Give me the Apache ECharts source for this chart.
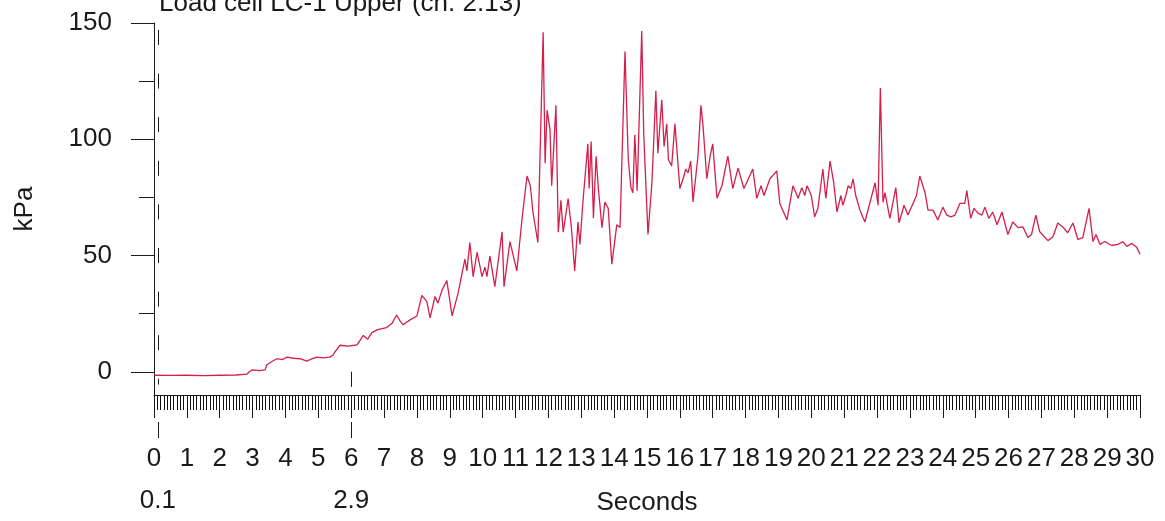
<!DOCTYPE html>
<html>
<head>
<meta charset="utf-8">
<script src="https://cdn.jsdelivr.net/npm/echarts@6/dist/echarts.min.js"></script>
<style>
html,body{margin:0;padding:0;background:#fff;}
#chart{width:1165px;height:521px;}
</style>
</head>
<body>
<div id="chart"></div>
<script>
// ---- data ----
const times = [
  0.0, 0.5, 1.0, 1.5, 2.0, 2.5, 2.83, 2.9, 3.0, 3.2, 3.38, 3.43, 3.6, 3.74, 3.9, 4.05, 4.25, 4.44, 4.65, 4.8,
  4.96, 5.15, 5.35, 5.45, 5.5, 5.66, 5.9, 6.1, 6.18, 6.37, 6.5, 6.63, 6.8, 7.08, 7.25, 7.38, 7.48, 7.58, 7.79, 8.0,
  8.15, 8.3, 8.4, 8.55, 8.64, 8.76, 8.91, 9.07, 9.25, 9.46, 9.52, 9.61, 9.71, 9.83, 9.98, 10.07, 10.13, 10.22, 10.37, 10.59,
  10.65, 10.83, 11.04, 11.2, 11.35, 11.45, 11.53, 11.68, 11.74, 11.84, 11.9, 11.96, 12.05, 12.1, 12.23, 12.3, 12.38, 12.45, 12.6, 12.7,
  12.8, 12.9, 12.96, 13.05, 13.2, 13.24, 13.3, 13.37, 13.45, 13.52, 13.63, 13.72, 13.82, 13.93, 14.08, 14.18, 14.33, 14.43, 14.51, 14.57,
  14.63, 14.7, 14.84, 14.9, 15.03, 15.15, 15.27, 15.33, 15.45, 15.52, 15.6, 15.65, 15.75, 15.85, 16.0, 16.1, 16.18, 16.25, 16.33, 16.4,
  16.55, 16.64, 16.7, 16.82, 16.92, 17.0, 17.13, 17.28, 17.46, 17.61, 17.77, 17.95, 18.22, 18.34, 18.47, 18.56, 18.74, 18.95, 19.04, 19.26,
  19.44, 19.6, 19.71, 19.8, 19.87, 20.0, 20.1, 20.2, 20.35, 20.44, 20.57, 20.68, 20.78, 20.9, 20.96, 21.05, 21.12, 21.2, 21.27, 21.35,
  21.48, 21.63, 21.84, 21.94, 22.03, 22.1, 22.18, 22.24, 22.39, 22.57, 22.67, 22.82, 22.94, 23.2, 23.3, 23.46, 23.55, 23.7, 23.85, 24.0,
  24.12, 24.25, 24.37, 24.52, 24.67, 24.73, 24.85, 24.95, 25.07, 25.19, 25.28, 25.4, 25.52, 25.65, 25.8, 25.98, 26.13, 26.29, 26.44, 26.59,
  26.7, 26.83, 26.95, 27.2, 27.35, 27.5, 27.65, 27.8, 27.96, 28.11, 28.26, 28.45, 28.57, 28.66, 28.78, 28.93, 29.14, 29.33, 29.48, 29.6,
  29.75, 29.9, 30.0
];
const kpa = [
  -1.5, -1.6, -1.5, -1.7, -1.5, -1.4, -1.0, 0, 0.8, 0.5, 0.8, 2.9, 4.5, 5.6, 5.2, 6.3, 5.8, 5.6, 4.6, 5.5,
  6.3, 6.0, 6.3, 7.2, 8.4, 11.4, 11.0, 11.4, 11.6, 15.6, 14.0, 16.8, 18.1, 19.0, 21, 24.4, 22, 20.2, 22.3, 24,
  32.8, 30.3, 23.2, 32.4, 29.5, 35, 39.2, 24, 33.7, 48.4, 43.4, 55.6, 40.9, 51.4, 40.9, 45, 40.9, 49.7, 36.6, 60.2,
  36.6, 56, 43.4, 66, 84.2, 80, 68.7, 55.6, 54.8, 146, 89.7, 112.5, 104, 80, 114.6, 60, 73.7, 60, 74.5, 62,
  43.4, 64.4, 54.8, 73, 98, 78.8, 99, 66, 92.7, 78.8, 62, 73, 70.3, 46.3, 63.2, 62, 137.7, 91.4, 79.2, 77,
  101.9, 77.9, 146.6, 102.4, 59, 81.3, 120.9, 94, 117, 96.9, 106.6, 91.4, 88.5, 106.6, 78.8, 83, 87.2, 85.5, 90.6, 73,
  92.7, 114.6, 106.6, 83, 92.7, 98, 74.6, 80, 92.7, 78.8, 87.6, 78.8, 87.2, 74.6, 80, 75.8, 83, 86.4, 72.4, 65.3,
  80, 74.6, 79.2, 75.8, 80, 75.8, 66.6, 70.3, 87.2, 74.6, 90.6, 81.3, 68.7, 75.8, 71.6, 75.8, 80, 78.8, 83, 75.8,
  69.5, 64.4, 75.8, 81.3, 71.6, 122, 72.9, 77, 66, 79.2, 64, 71.6, 67.4, 75.8, 84.2, 77, 69.5, 69.5, 65.3, 70.8,
  67.4, 66.6, 67.4, 72.4, 72.4, 77.9, 66, 70.3, 68.2, 67.4, 70.8, 66, 68.7, 63.2, 68.7, 59, 64.4, 62, 62.3, 57.7,
  59, 67.4, 60.2, 56.4, 58.1, 64, 62.3, 59.8, 64, 56.9, 57.7, 70.3, 56, 59, 54.8, 56, 54.3, 54.8, 56, 53.9,
  55.2, 53.5, 50.5
];
const yMajorTicks = [0, 50, 100, 150];
const yMinorTicks = [25, 75, 125];
const markerTimes = [0.12, 6.0];
const markerLabels = ['0.1', '2.9'];
const titleText = 'Load cell LC-1 Upper (ch. 2.13)';

// ---- chart ----
const FONT = 'Liberation Sans, Arial, Helvetica, sans-serif';
const INK = '#1a1a1a';
const LINE = '#d41f4c';
const seriesData = times.map((t, i) => [t, kpa[i]]);

const chart = echarts.init(document.getElementById('chart'), null, {renderer: 'canvas'});
chart.setOption({
  animation: false,
  backgroundColor: '#fff',
  textStyle: {fontFamily: FONT, color: INK},
  title: {
    text: titleText, left: 154, top: -14,
    textStyle: {fontFamily: FONT, fontSize: 26, fontWeight: 'normal', color: INK}
  },
  grid: [
    {left: 154, right: 25, top: 23, bottom: 117, containLabel: false},
    {left: 154, right: 25, top: 422, bottom: 83, containLabel: false}
  ],
  xAxis: [
    {
      type: 'value', gridIndex: 0, min: 0, max: 30, interval: 1,
      axisLine: {show: true, onZero: false, lineStyle: {color: INK, width: 1}},
      axisTick: {show: true, length: 23, lineStyle: {color: INK, width: 1}},
      minorTick: {show: true, splitNumber: 10, length: 15, lineStyle: {color: '#111', width: 1}},
      axisLabel: {fontSize: 26, color: INK, margin: 51, fontFamily: FONT, hideOverlap: false},
      splitLine: {show: false}, minorSplitLine: {show: false},
      name: 'Seconds', nameLocation: 'middle', nameGap: 95,
      nameTextStyle: {fontSize: 26, color: INK, fontFamily: FONT}
    },
    {
      type: 'value', gridIndex: 1, min: 0, max: 30,
      axisLine: {show: false}, axisTick: {show: false}, splitLine: {show: false},
      axisLabel: {
        show: true, customValues: markerTimes, fontSize: 26, color: INK, margin: 50, fontFamily: FONT,
        formatter: v => { const i = markerTimes.indexOf(v); return i >= 0 ? markerLabels[i] : ''; }
      }
    }
  ],
  yAxis: [
    {
      type: 'value', gridIndex: 0, min: -10, max: 150, position: 'left',
      axisLine: {show: true, onZero: false, lineStyle: {color: INK, width: 1}},
      axisTick: {show: true, customValues: yMajorTicks, length: 23, lineStyle: {color: INK, width: 1}},
      axisLabel: {customValues: yMajorTicks, fontSize: 26, color: INK, margin: 42, fontFamily: FONT},
      splitLine: {show: false},
      name: 'kPa', nameLocation: 'middle', nameGap: 116, nameRotate: 90,
      nameTextStyle: {fontSize: 26, color: INK, fontFamily: FONT}
    },
    {
      type: 'value', gridIndex: 0, min: -10, max: 150, position: 'left',
      axisLine: {show: false},
      axisTick: {show: true, customValues: yMinorTicks, length: 15, lineStyle: {color: INK, width: 1}},
      axisLabel: {show: false}, splitLine: {show: false}
    },
    {
      type: 'value', gridIndex: 1, min: 0, max: 1, show: false
    }
  ],
  series: [
    {
      type: 'line', xAxisIndex: 0, yAxisIndex: 0,
      data: seriesData, showSymbol: false, symbol: 'none',
      lineStyle: {color: LINE, width: 1.3}, itemStyle: {color: LINE},
      markLine: {
        silent: true, symbol: ['none', 'none'], animation: false,
        label: {show: false},
        data: [
          [
            {coord: [markerTimes[0], 147], lineStyle: {color: INK, width: 1, type: [15, 28.6]}},
            {coord: [markerTimes[0], -5.5]}
          ],
          [
            {coord: [markerTimes[1], 0], lineStyle: {color: INK, width: 1, type: 'solid'}},
            {coord: [markerTimes[1], -6.5]}
          ]
        ]
      }
    },
    {
      type: 'line', xAxisIndex: 1, yAxisIndex: 2, data: [],
      markLine: {
        silent: true, symbol: ['none', 'none'], animation: false,
        label: {show: false},
        lineStyle: {color: INK, width: 1, type: 'solid'},
        data: markerTimes.map(t => ({xAxis: t}))
      }
    }
  ]
});
</script>
</body>
</html>
